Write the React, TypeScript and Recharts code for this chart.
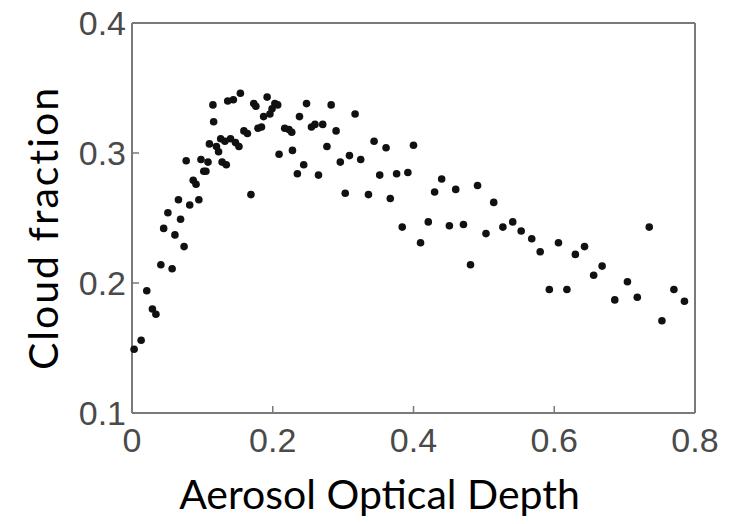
import {
  ScatterChart,
  Scatter,
  XAxis,
  YAxis,
  Label,
} from "recharts";

// aerosol optical depth (x) and cloud fraction (y)
const aod = [
  0.003, 0.013, 0.021, 0.029, 0.034, 0.041, 0.057, 0.045, 0.051, 0.061,
  0.066, 0.069, 0.074, 0.077, 0.082, 0.087, 0.091, 0.095, 0.098, 0.102,
  0.105, 0.108, 0.11, 0.115, 0.116, 0.12, 0.123, 0.126, 0.128, 0.132,
  0.134, 0.136, 0.14, 0.144, 0.147, 0.152, 0.154, 0.159, 0.164, 0.169,
  0.173, 0.176, 0.179, 0.184, 0.187, 0.192, 0.196, 0.199, 0.203, 0.207,
  0.209, 0.217, 0.223, 0.227, 0.228, 0.235, 0.238, 0.244, 0.248, 0.255,
  0.26, 0.265, 0.271, 0.277, 0.283, 0.29, 0.296, 0.303, 0.309, 0.317,
  0.325, 0.336, 0.344, 0.352, 0.361, 0.367, 0.376, 0.384, 0.392, 0.4,
  0.41, 0.421, 0.43, 0.44, 0.451, 0.46, 0.471, 0.481, 0.491, 0.503,
  0.514, 0.527, 0.541, 0.553, 0.568, 0.58, 0.593, 0.606, 0.618, 0.63,
  0.643, 0.656, 0.668, 0.686, 0.704, 0.718, 0.735, 0.753, 0.77, 0.785,
];
const cloudFraction = [
  0.149, 0.156, 0.194, 0.18, 0.176, 0.214, 0.211, 0.242, 0.254, 0.237,
  0.264, 0.249, 0.228, 0.294, 0.26, 0.279, 0.276, 0.264, 0.295, 0.286,
  0.286, 0.293, 0.307, 0.337, 0.324, 0.305, 0.301, 0.311, 0.293, 0.309,
  0.291, 0.34, 0.311, 0.341, 0.308, 0.305, 0.346, 0.317, 0.315, 0.268,
  0.338, 0.336, 0.319, 0.32, 0.328, 0.343, 0.33, 0.334, 0.338, 0.337,
  0.299, 0.319, 0.318, 0.316, 0.302, 0.284, 0.328, 0.291, 0.338, 0.32,
  0.322, 0.283, 0.322, 0.305, 0.337, 0.317, 0.293, 0.269, 0.298, 0.33,
  0.295, 0.268, 0.309, 0.283, 0.304, 0.265, 0.284, 0.243, 0.285, 0.306,
  0.231, 0.247, 0.27, 0.28, 0.244, 0.272, 0.245, 0.214, 0.275, 0.238,
  0.262, 0.243, 0.247, 0.24, 0.234, 0.224, 0.195, 0.231, 0.195, 0.222,
  0.228, 0.206, 0.213, 0.187, 0.201, 0.189, 0.243, 0.171, 0.195, 0.186,
];
const xTicks = [0, 0.2, 0.4, 0.6, 0.8];
const yTicks = [0.1, 0.2, 0.3, 0.4];

const points = aod.map((x, i) => ({ x, y: cloudFraction[i] }));

const frameColor = "#7a7a7a";
const tickFont = {
  fill: "#4a4a4a",
  fontSize: 34,
  fontFamily: "Liberation Sans, Arial, sans-serif",
};
const titleFont = "Lato, 'Open Sans', sans-serif";

const fmt = (v: number) => (v === 0 ? "0" : String(v));

const Dot = (props: any) => (
  <circle cx={props.cx} cy={props.cy} r={3.8} fill="#111" />
);

export default function App() {
  return (
    <div
      style={{
        position: "absolute",
        left: 0,
        top: 0,
        background: "#fff",
        fontFamily: "Liberation Sans, Arial, sans-serif",
      }}
    >
      <ScatterChart
        width={732}
        height={524}
        margin={{ top: 13, right: 27, bottom: 0, left: 70 }}
      >
        <XAxis
          type="number"
          dataKey="x"
          domain={[0, 0.8]}
          ticks={xTicks}
          tickFormatter={fmt}
          height={111}
          tick={tickFont}
          tickSize={-7}
          tickMargin={22}
          axisLine={{ stroke: frameColor, strokeWidth: 2 }}
          tickLine={{ stroke: frameColor, strokeWidth: 1.5 }}
        >
          <Label
            content={({ viewBox }: any) => (
              <text
                x={viewBox.x + viewBox.width / 2 - 34}
                y={viewBox.y + 96}
                textAnchor="middle"
                fontSize={41}
                fontFamily={titleFont}
                fill="#000"
              >
                Aerosol Optical Depth
              </text>
            )}
          />
        </XAxis>
        <XAxis
          xAxisId="top"
          orientation="top"
          type="number"
          domain={[0, 0.8]}
          ticks={xTicks}
          height={10}
          tick={false}
          tickSize={-7}
          axisLine={{ stroke: frameColor, strokeWidth: 2 }}
          tickLine={{ stroke: frameColor, strokeWidth: 1.5 }}
        />
        <YAxis
          type="number"
          dataKey="y"
          domain={[0.1, 0.4]}
          ticks={yTicks}
          width={62}
          tick={tickFont}
          tickSize={-7}
          tickMargin={13}
          axisLine={{ stroke: frameColor, strokeWidth: 2 }}
          tickLine={{ stroke: frameColor, strokeWidth: 1.5 }}
        >
          <Label
            content={({ viewBox }: any) => {
              const cx = viewBox.x - 28;
              const cy = viewBox.y + viewBox.height / 2 + 10;
              return (
                <text
                  x={cx}
                  y={cy}
                  transform={`rotate(-90, ${cx}, ${cy})`}
                  textAnchor="middle"
                  dominantBaseline="central"
                  fontSize={41}
                  letterSpacing={2}
                  fontFamily={titleFont}
                  fill="#000"
                >
                  Cloud fraction
                </text>
              );
            }}
          />
        </YAxis>
        <YAxis
          yAxisId="right"
          orientation="right"
          type="number"
          domain={[0.1, 0.4]}
          ticks={yTicks}
          width={10}
          tick={false}
          tickSize={-7}
          axisLine={{ stroke: frameColor, strokeWidth: 2 }}
          tickLine={{ stroke: frameColor, strokeWidth: 1.5 }}
        />
        <Scatter data={points} shape={Dot} isAnimationActive={false} />
      </ScatterChart>
    </div>
  );
}
